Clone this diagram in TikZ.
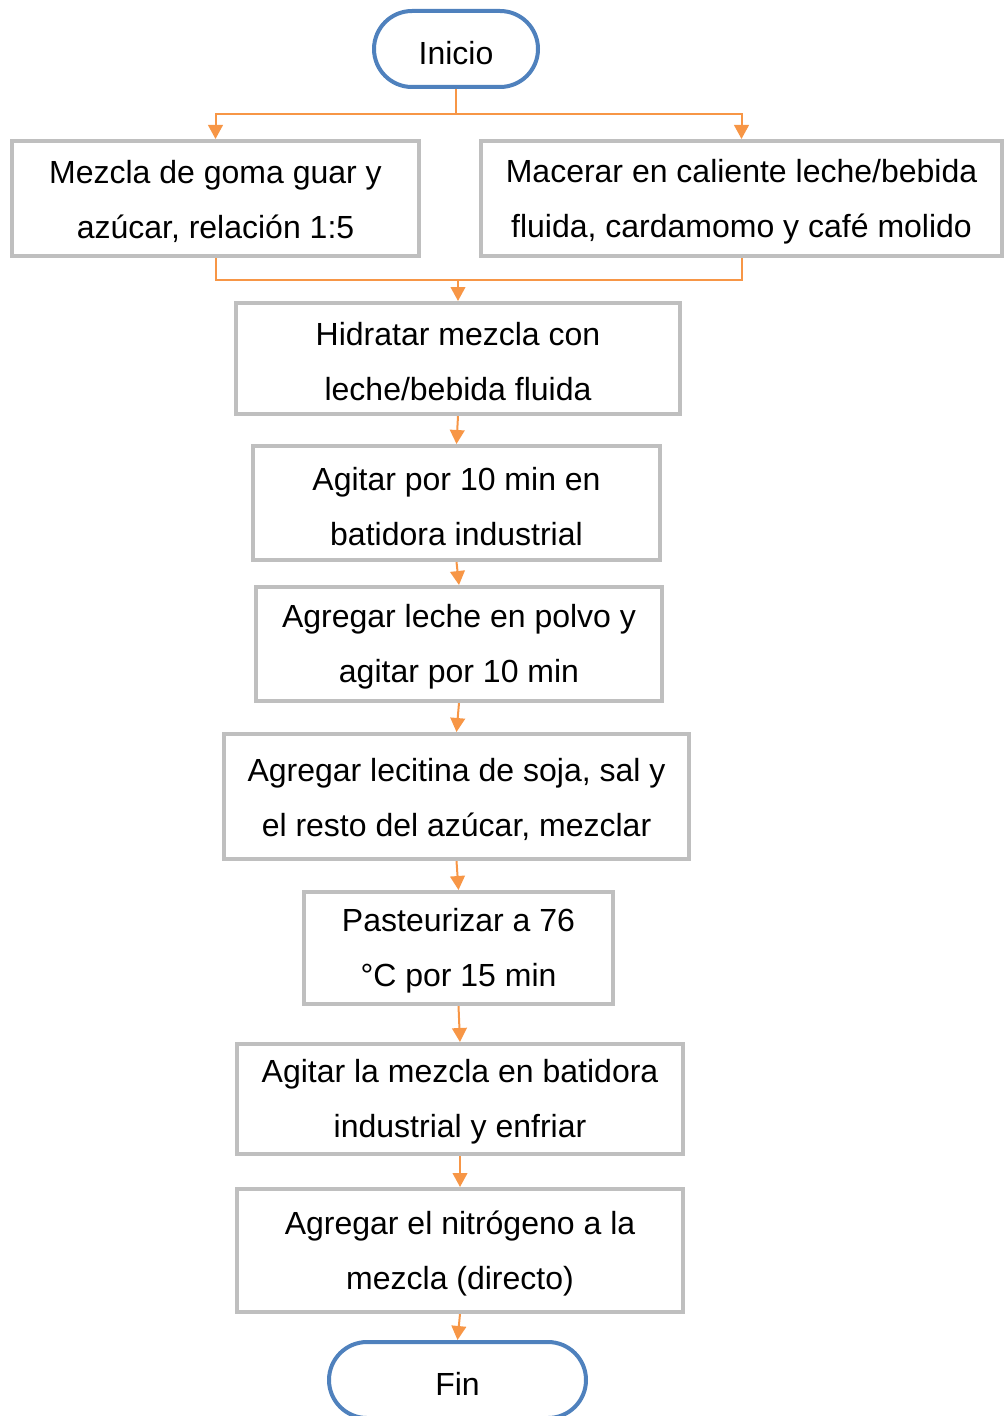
\documentclass[tikz,border=0pt]{standalone}
\usepackage{fontspec}
\setmainfont{Liberation Sans}
\usetikzlibrary{arrows.meta}
\pgfdeclarelayer{edgelayer}
\pgfdeclarelayer{nodelayer}
\pgfsetlayers{edgelayer,nodelayer,main}
\definecolor{termblue}{HTML}{4F81BD}
\definecolor{boxgray}{HTML}{BFBFBF}
\definecolor{floworange}{HTML}{F79646}
\newcommand{\firstline}{\rule{0pt}{22pt}}
\tikzstyle{none} = []
\tikzstyle{terminal} = [draw=termblue, line width=3pt, fill=white, rounded corners=28.5pt, minimum width=123pt, minimum height=57pt, inner sep=0pt, text height=23pt, text depth=0pt]
\tikzstyle{process} = [draw=boxgray, line width=3pt, fill=white, align=center, inner sep=0pt]
\tikzstyle{flow} = [draw=floworange, line width=1.5pt]
\tikzstyle{flowarrow} = [flow, -{Triangle[width=11pt,length=10.5pt]}]

\begin{document}
\begin{tikzpicture}[x=0.75pt, y=-0.75pt, font=\fontsize{24}{41.25}\selectfont]
	\clip (0, 0) rectangle (1006, 1416);
	\begin{pgfonlayer}{nodelayer}
		\node [style=terminal] (0) at (456, 49) {Inicio};
		\node [style=process, minimum width=305.25pt, minimum height=86.25pt] (1) at (215.5, 198.5) {\firstline Mezcla de goma guar y\\azúcar, relación 1:5};
		\node [style=process, minimum width=390.75pt, minimum height=86.25pt] (2) at (741.5, 198.5) {\firstline Macerar en caliente leche/bebida\\fluida, cardamomo y café molido};
		\node [style=process, minimum width=333pt, minimum height=83.25pt] (3) at (458, 358.5) {\firstline Hidratar mezcla con\\leche/bebida fluida};
		\node [style=process, minimum width=305.25pt, minimum height=85.5pt] (4) at (456.5, 503) {\firstline Agitar por 10 min en\\batidora industrial};
		\node [style=process, minimum width=304.5pt, minimum height=85.5pt] (5) at (459, 644) {\firstline Agregar leche en polvo y\\agitar por 10 min};
		\node [style=process, minimum width=348.75pt, minimum height=93.75pt] (6) at (456.5, 796.5) {\firstline Agregar lecitina de soja, sal y\\el resto del azúcar, mezclar};
		\node [style=process, minimum width=231.75pt, minimum height=84pt] (7) at (458.5, 948) {\firstline Pasteurizar a 76\\°C por 15 min};
		\node [style=process, minimum width=334.5pt, minimum height=82.5pt] (8) at (460, 1099) {\firstline Agitar la mezcla en batidora\\industrial y enfriar};
		\node [style=process, minimum width=334.5pt, minimum height=92.25pt] (9) at (460, 1250.5) {\firstline Agregar el nitrógeno a la\\mezcla (directo)};
		\node [style=terminal, minimum width=192.75pt] (10) at (457.5, 1380) {Fin};
	\end{pgfonlayer}
	\begin{pgfonlayer}{edgelayer}
		\coordinate (11) at (456, 114);
		\coordinate (12) at (458, 280);
		\draw [style=flow] (0.south) to (11);
		\draw [style=flowarrow] (11) -| (1.north);
		\draw [style=flowarrow] (11) -| (2.north);
		\draw [style=flow] (1.south) |- (12);
		\draw [style=flow] (2.south) |- (12);
		\draw [style=flowarrow] (12) to (3.north);
		\draw [style=flowarrow] (3.south) to (4.north);
		\draw [style=flowarrow] (4.south) to (5.north);
		\draw [style=flowarrow] (5.south) to (6.north);
		\draw [style=flowarrow] (6.south) to (7.north);
		\draw [style=flowarrow] (7.south) to (8.north);
		\draw [style=flowarrow] (8.south) to (9.north);
		\draw [style=flowarrow] (9.south) to (10.north);
	\end{pgfonlayer}
\end{tikzpicture}
\end{document}
